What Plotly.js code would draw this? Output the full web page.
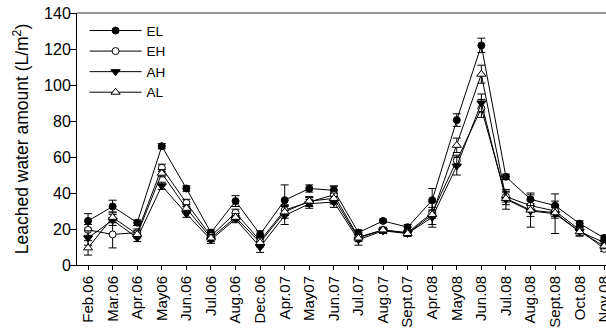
<!DOCTYPE html>
<html>
<head>
<meta charset="utf-8">
<script src="https://cdn.plot.ly/plotly-3.0.1.min.js"></script>
<style>
  html, body { margin: 0; padding: 0; background: #fff; overflow: hidden; width: 606px; height: 330px; }
  #chart { width: 640px; height: 330px; }
</style>
</head>
<body>
<div id="chart"></div>
<script>
// Sampling dates
const categories = ['Feb.06','Mar.06','Apr.06','May06','Jun.06','Jul.06','Aug.06','Dec.06',
  'Apr.07','May07','Jun.07','Jul.07','Aug.07','Sept.07','Apr.08','May08','Jun.08','Jul.08',
  'Aug.08','Sept.08','Oct.08','Nov.08'];

// Leached water amount (L/m2) per treatment
const EL = [24.5, 32.5, 23.5, 66, 42.5, 18, 35.5, 17, 36, 42.5, 41.5, 18, 24.5, 21, 36, 80.5, 122, 49, 36.5, 33, 23, 15];
const EH = [19.5, 17, 18, 54, 34.5, 16, 29, 13.5, 30.5, 35, 39, 15.5, 19.5, 18, 29, 58, 87, 38, 33, 30, 19.5, 9];
const AH = [15, 25, 15, 44, 28.5, 14, 25.5, 10, 27.5, 34, 35, 14, 19, 17.5, 26.5, 55, 90, 36.5, 30, 28.5, 18.5, 12.5];
const AL = [9.5, 26.5, 17, 51, 31.5, 15, 26.5, 12.5, 29.5, 35.5, 37, 15, 19.5, 17.5, 28, 66.5, 106, 37, 30.5, 29, 18.5, 10.5];

// Standard errors
const EL_err = [4, 3.5, 1.5, 1.5, 1.5, 1.5, 3, 2, 8.5, 2, 2, 1.5, 1, 1.5, 6.5, 3.5, 4, 1.5, 2.5, 2.5, 1.5, 1.5];
const EH_err = [3, 7.5, 2, 2, 2, 1.5, 2, 2, 3, 2.5, 5, 1.5, 1, 1, 3, 3, 5, 3, 3, 3, 2, 1.5];
const AH_err = [4, 3, 2, 2, 2, 2, 2, 3, 5, 2.5, 3, 3, 1.5, 1.5, 4, 5, 5, 5.5, 3, 11, 2, 1.5];
const AL_err = [4, 3, 2, 2, 2, 2, 2, 2.5, 3.5, 2.5, 3, 2, 1.5, 1.5, 7, 4, 5, 3.5, 9.5, 3, 2.5, 1.5];

const idx = categories.map((_, i) => i);

function series(name, y, err, symbol, size, fill) {
  return {
    type: 'scatter', mode: 'lines+markers', name: name,
    x: idx, y: y,
    line: { color: '#000', width: 1 },
    marker: { symbol: symbol, size: size, color: fill, line: { color: '#000', width: 1 } },
    error_y: { type: 'data', array: err, visible: true, color: '#000', thickness: 1, width: 4 },
    cliponaxis: false
  };
}

const traces = [
  series('EL', EL, EL_err, 'circle', 7, '#000'),
  series('EH', EH, EH_err, 'circle', 7, '#fff'),
  series('AH', AH, AH_err, 'triangle-down', 8, '#000'),
  series('AL', AL, AL_err, 'triangle-up', 8, '#fff')
];

const layout = {
  width: 640, height: 330,
  margin: { l: 77, r: 21, t: 13, b: 65 },
  paper_bgcolor: '#fff', plot_bgcolor: '#fff',
  font: { family: 'Arial, "Liberation Sans", sans-serif', size: 14, color: '#000' },
  showlegend: true,
  legend: {
    x: 0.014, y: 0.991, xanchor: 'left', yanchor: 'top',
    bgcolor: 'rgba(0,0,0,0)', font: { size: 13.5 }, itemwidth: 52, tracegroupgap: 0
  },
  xaxis: {
    range: [-0.45, 21.6],
    tickmode: 'array', tickvals: idx, ticktext: categories,
    tickangle: -90, ticks: 'outside', ticklen: 4, tickcolor: '#000',
    showline: true, linecolor: '#000', linewidth: 1,
    showgrid: false, zeroline: false,
    tickfont: { size: 15 }
  },
  yaxis: {
    range: [0, 140], tickvals: [0, 20, 40, 60, 80, 100, 120, 140],
    ticks: 'outside', ticklen: 6, tickcolor: '#000',
    ticklabelstandoff: -4,
    showline: true, linecolor: '#000', linewidth: 1,
    showgrid: false, zeroline: false,
    tickfont: { size: 16 },
    title: { text: 'Leached water amount (L/m<sup>2</sup>)', font: { size: 17.5 }, standoff: 10 }
  },
  shapes: [{
    type: 'line', xref: 'paper', yref: 'paper', x0: 0, x1: 1, y0: 1, y1: 1,
    line: { color: '#777', width: 1.5 }
  }]
};

Plotly.newPlot('chart', traces, layout, { displayModeBar: false, staticPlot: true });
</script>
</body>
</html>
